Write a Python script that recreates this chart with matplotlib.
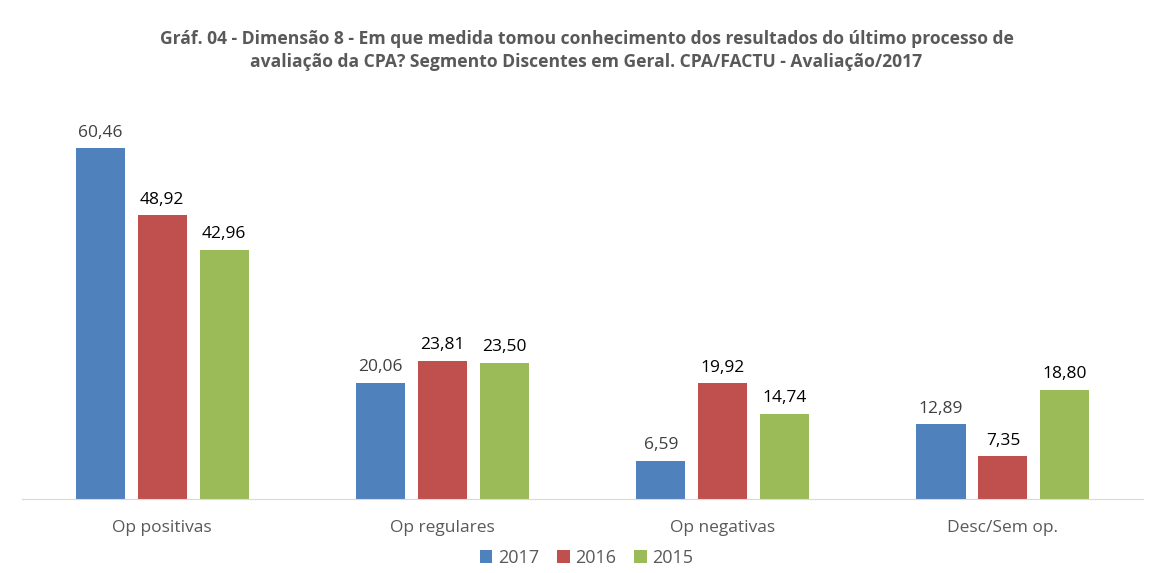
import matplotlib
matplotlib.use("Agg")
from matplotlib import pyplot as plt
from matplotlib.patches import Patch
import numpy as np

# data
categories = ["Op positivas", "Op regulares", "Op negativas", "Desc/Sem op."]
years = ["2017", "2016", "2015"]
vals_2017 = [60.46, 20.06, 6.59, 12.89]
vals_2016 = [48.92, 23.81, 19.92, 7.35]
vals_2015 = [42.96, 23.50, 14.74, 18.80]

colors = ["#4f81bd", "#c0504d", "#9bbb59"]
label_colors = ["#404040", "#000000", "#000000"]

plt.rcParams["font.family"] = ["Open Sans", "DejaVu Sans"]

fig = plt.figure(figsize=(11.5, 5.73), dpi=100)
ax = fig.add_axes([0.0191, 0.129, 0.9749, 0.709])

x = np.arange(len(categories))
width = 0.175
step = 0.221

# one bar series per year, with value labels on top
for i, (vals, col, lcol) in enumerate(zip([vals_2017, vals_2016, vals_2015], colors, label_colors)):
    pos = x + (i - 1) * step
    bars = ax.bar(pos, vals, width, color=col, label=years[i])
    for b, v in zip(bars, vals):
        ax.text(b.get_x() + b.get_width() / 2, v + 1.3, ("%.2f" % v).replace(".", ","),
                ha="center", va="bottom", fontsize=12.5, color=lcol)

ax.set_xlim(-0.5, 3.5)
ax.set_ylim(0, 70)
ax.set_yticks([])
ax.set_xticks(x)
ax.set_xticklabels(categories, fontsize=12.5, color="#595959")
ax.tick_params(axis="x", length=0, pad=15)
for s in ["top", "right", "left"]:
    ax.spines[s].set_visible(False)
ax.spines["bottom"].set_color("#d9d9d9")

fig.text(0.51, 0.9115, "Gráf. 04 - Dimensão 8 - Em que medida tomou conhecimento dos resultados do último processo de\n"
         "avaliação da CPA? Segmento Discentes em Geral. CPA/FACTU - Avaliação/2017",
         ha="center", va="center", fontsize=12.6, fontweight="bold", color="#595959",
         linespacing=1.35)

handles = [Patch(facecolor=c, label=y) for c, y in zip(colors, years)]
fig.legend(handles=handles, loc="center", bbox_to_anchor=(0.51, 0.026), ncol=3, frameon=False,
           fontsize=13, handlelength=0.7, handleheight=0.7, handletextpad=0.3,
           columnspacing=1.0, labelcolor="#595959")

fig.savefig("out.png", dpi=100)
